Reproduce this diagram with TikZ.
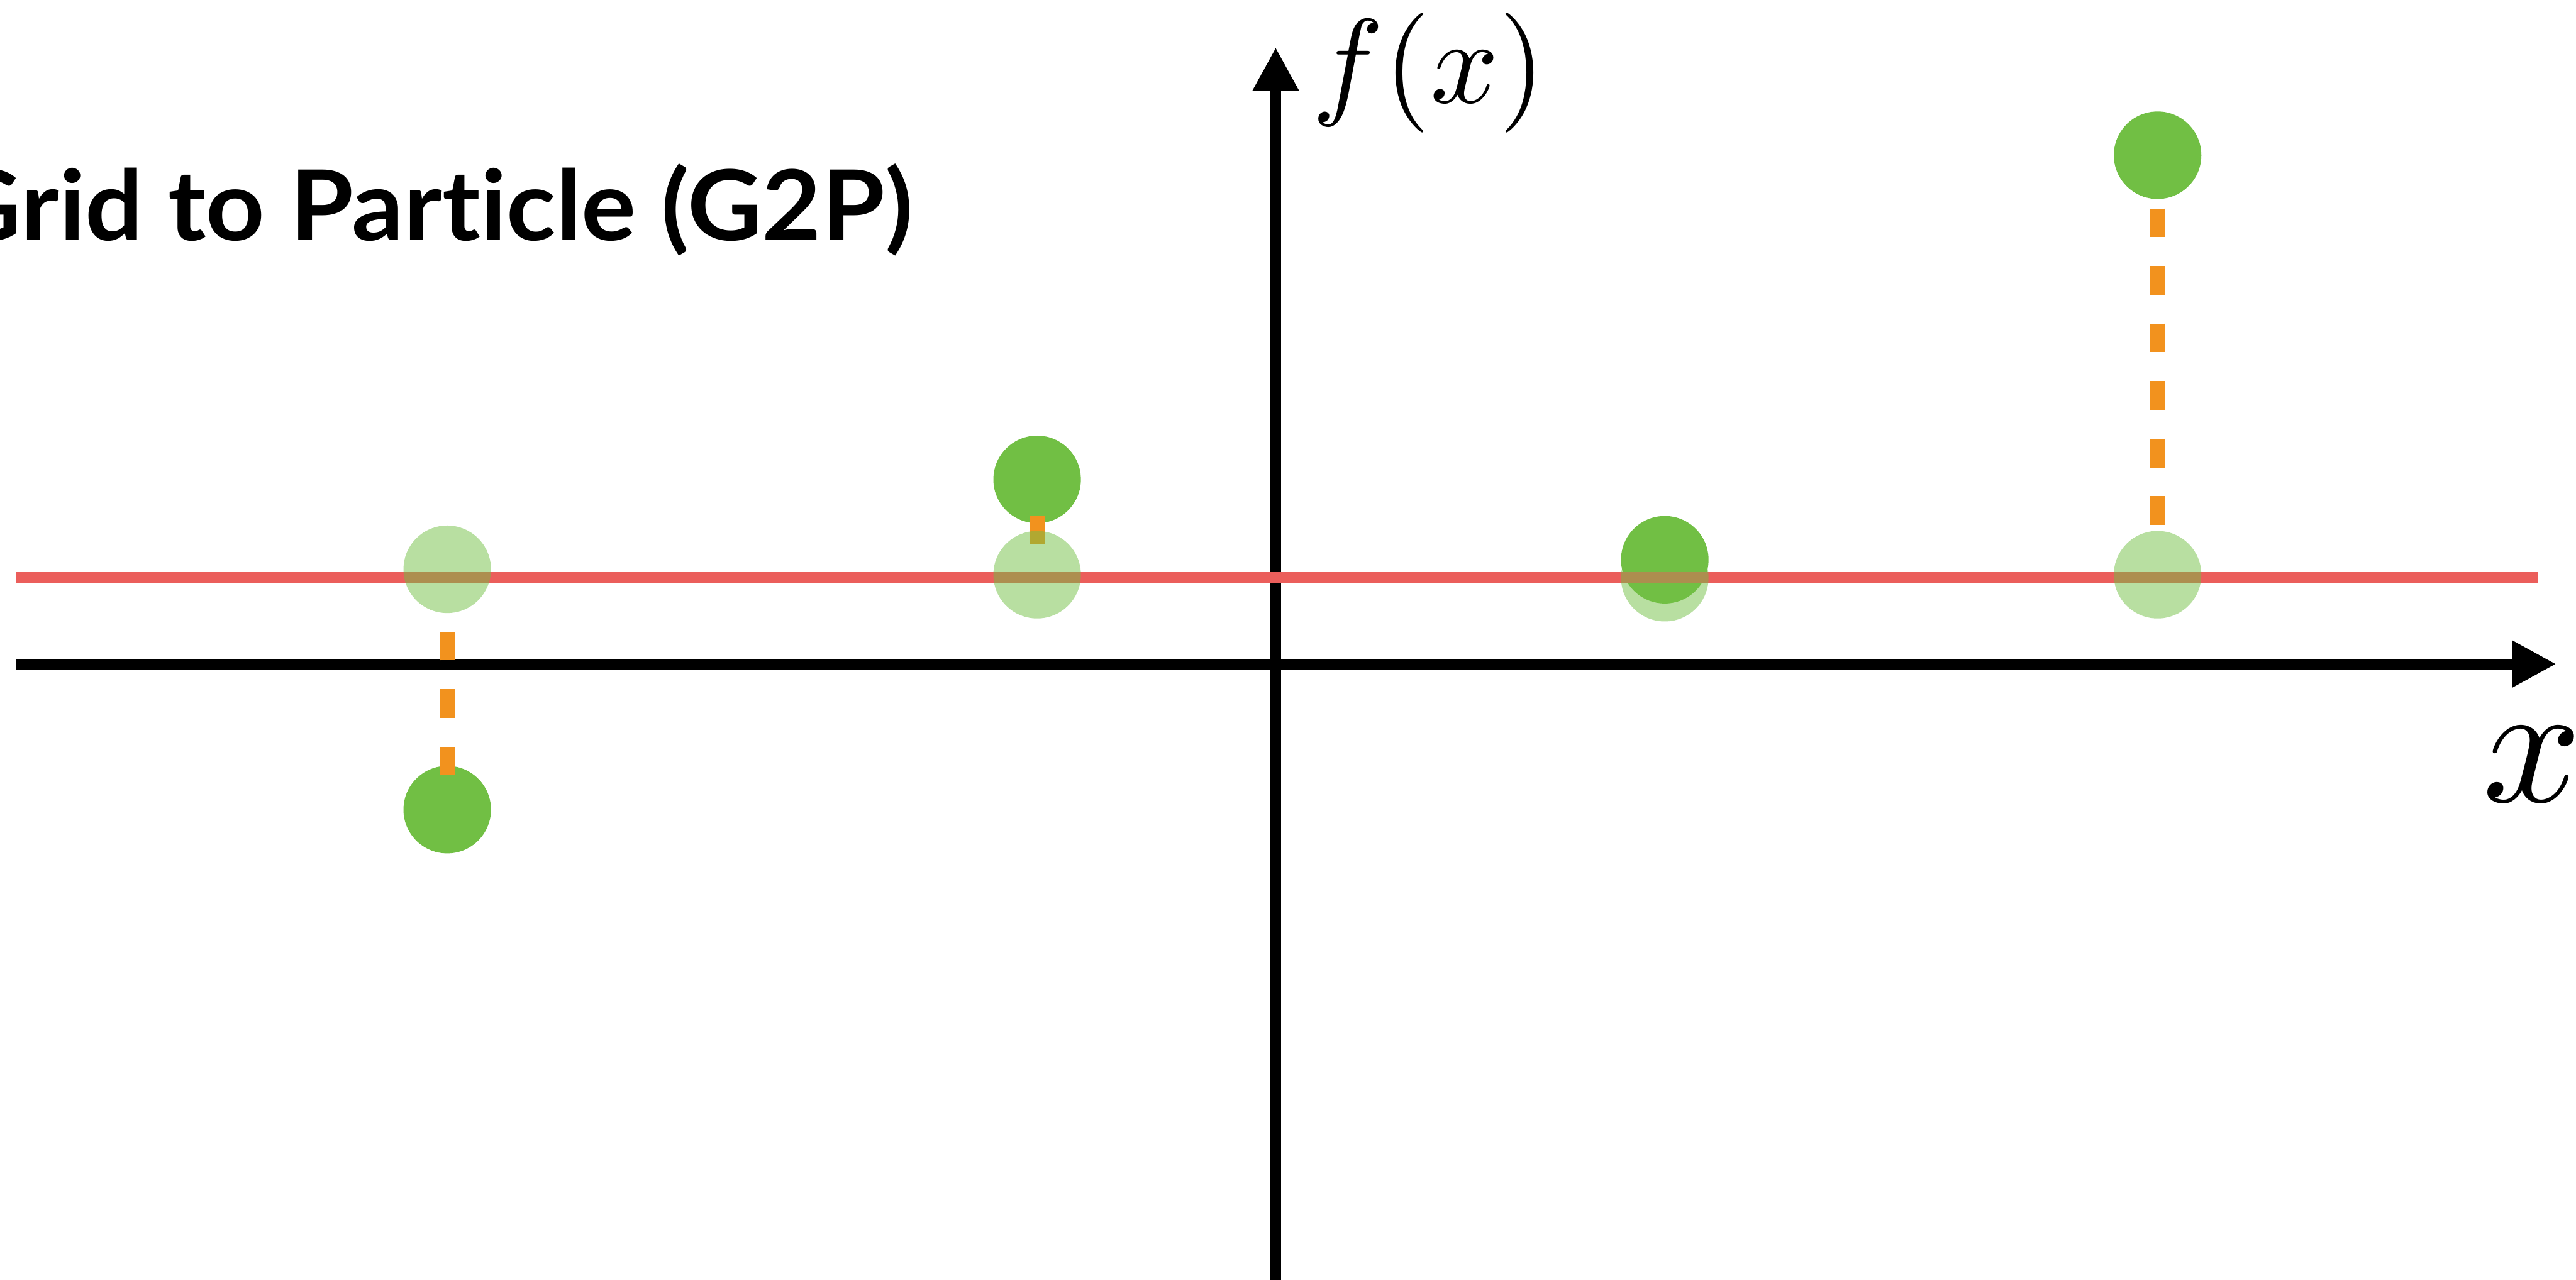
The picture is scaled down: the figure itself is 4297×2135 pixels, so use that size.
\documentclass[tikz,border=0pt]{standalone}
\usepackage{fontspec}
\newfontfamily\titlefont[Ligatures=NoCommon]{Lato}
\usetikzlibrary{arrows.meta}
\pgfdeclarelayer{bg}
\pgfdeclarelayer{mid}
\pgfsetlayers{bg,mid,main}
\definecolor{pgreen}{RGB}{113,191,68}
\definecolor{porange}{RGB}{242,146,30}
\definecolor{pred}{RGB}{235,94,91}
\tikzset{
  axis/.style={line width=18pt, draw=black, -{Triangle[length=73pt,width=73pt]}},
  particle/.style={circle, fill=pgreen, draw=none, minimum size=146pt, inner sep=0pt},
  gridpt/.style={circle, fill=pgreen, fill opacity=0.5, draw=none, minimum size=146pt, inner sep=0pt},
  link/.style={draw=porange, line width=24pt, dash pattern=on 48pt off 48pt},
  fitline/.style={draw=pred, line width=18pt},
}
\begin{document}
\begin{tikzpicture}[x=1pt,y=-1pt]
\useasboundingbox (0,0) rectangle (4297,2135);
\begin{pgfonlayer}{bg}
  \coordinate (xs) at (27,1108);
  \coordinate (xe) at (4264,1108);
  \coordinate (ys) at (2128,2140);
  \coordinate (ye) at (2128,79);
  \draw[axis] (xs) -- (xe);
  \draw[axis] (ys) -- (ye);
  \node[particle] (p1) at (746,1351) {};
  \node[particle] (p2) at (1730,800) {};
  \node[particle] (p3) at (2777,934) {};
  \node[particle] (p4) at (3599,259) {};
\end{pgfonlayer}
\node[gridpt] (g1) at (746,950) {};
\node[gridpt] (g2) at (1730,959) {};
\node[gridpt] (g3) at (2777,964) {};
\node[gridpt] (g4) at (3599,959) {};
\begin{pgfonlayer}{mid}
  \coordinate (rs) at (27,964);
  \coordinate (re) at (4234,964);
  \draw[fitline] (rs) -- (re);
  \draw[link, shorten <=57pt, shorten >=104pt] (p1.center) -- (g1.center);
  \draw[link, shorten <=60pt, shorten >=50pt] (p2.center) -- (g2.center);
  \draw[link, shorten <=89pt, shorten >=83pt] (p4.center) -- (g4.center);
\end{pgfonlayer}
\node[anchor=base west, inner sep=0pt, scale=20] (fx) at (2185,172) {$f(x)$};
\node[anchor=base west, inner sep=0pt, scale=29] (xl) at (4135,1338) {$x$};
\node[anchor=base east, inner sep=0pt, xscale=1.05] (title) at (1523,401) {\fontsize{163}{200}\titlefont\bfseries Grid to Particle (G2P)};
\end{tikzpicture}
\end{document}
